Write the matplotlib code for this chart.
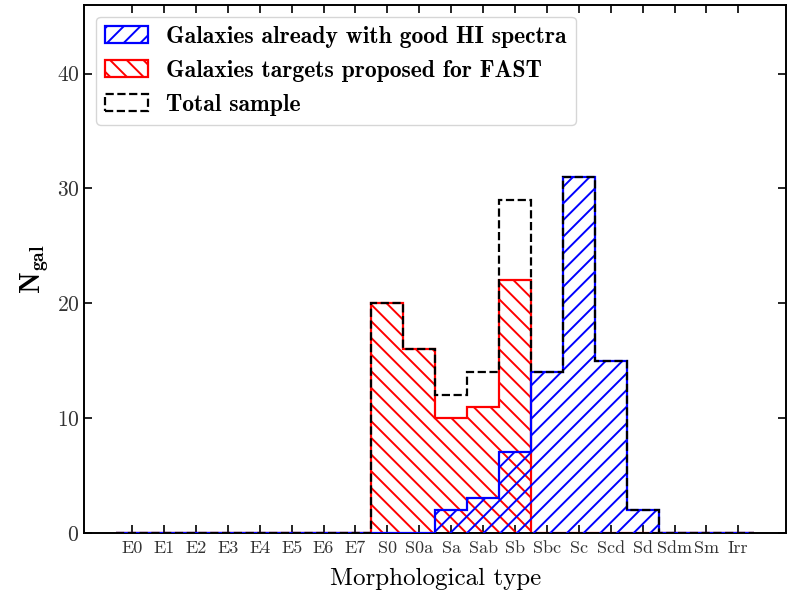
import numpy as np
import matplotlib
matplotlib.use('Agg')
import matplotlib.pyplot as plt

plt.rcParams['mathtext.fontset'] = 'cm'
plt.rcParams['axes.formatter.use_mathtext'] = True
plt.rcParams['hatch.linewidth'] = 1.4

# morphological types along the x axis
types = ['E0', 'E1', 'E2', 'E3', 'E4', 'E5', 'E6', 'E7', 'S0', 'S0a',
         'Sa', 'Sab', 'Sb', 'Sbc', 'Sc', 'Scd', 'Sd', 'Sdm', 'Sm', 'Irr']

# number of galaxies per type
n_good_hi = [0, 0, 0, 0, 0, 0, 0, 0, 0, 0, 2, 3, 7, 14, 31, 15, 2, 0, 0, 0]
n_fast = [0, 0, 0, 0, 0, 0, 0, 0, 20, 16, 10, 11, 22, 0, 0, 0, 0, 0, 0, 0]
n_total = [0, 0, 0, 0, 0, 0, 0, 0, 20, 16, 12, 14, 29, 14, 31, 15, 2, 0, 0, 0]

pos = np.arange(len(types))
bins = np.arange(len(types) + 1) - 0.5

fig = plt.figure(figsize=(7.87, 5.96), dpi=100)
ax = fig.add_axes([0.107, 0.106, 0.892, 0.886])

ax.hist(pos, bins=bins, weights=n_fast, histtype='step', color='red',
        hatch='\\\\', lw=1.6, zorder=2,
        label='Galaxies targets proposed for FAST')
ax.hist(pos, bins=bins, weights=n_good_hi, histtype='step', color='blue',
        hatch='//', lw=1.6, zorder=3,
        label='Galaxies already with good HI spectra')
ax.hist(pos, bins=bins, weights=n_total, histtype='step', color='black',
        ls='--', lw=1.6, zorder=4, label='Total sample')

ax.set_xlim(-1.5, 20.5)
ax.set_ylim(0, 46)
ax.set_xticks(pos)
ax.set_xticklabels(types, fontfamily='cmr10', fontsize=13, color='#333333')
ax.set_yticks([0, 10, 20, 30, 40])
for t in ax.get_yticklabels():
    t.set_fontfamily('cmr10')
    t.set_fontsize(15.5)
    t.set_color('#333333')
ax.tick_params(direction='in', top=True, right=True, length=6, width=1.2)
ax.tick_params(axis='x', pad=6)
for s in ax.spines.values():
    s.set_linewidth(1.4)

ax.set_xlabel('Morphological type', fontfamily='cmr10', fontsize=18,
              labelpad=8)
ax.set_ylabel(r'$\mathbf{N_{gal}}$', fontsize=20)

# legend order: blue, red, dashed
h, l = ax.get_legend_handles_labels()
order = [1, 0, 2]
ax.legend([h[i] for i in order], [l[i] for i in order], loc='upper left',
          prop={'family': 'cmb10', 'size': 17}, handlelength=1.8,
          handletextpad=0.75)

fig.savefig('out.png', dpi=100)
